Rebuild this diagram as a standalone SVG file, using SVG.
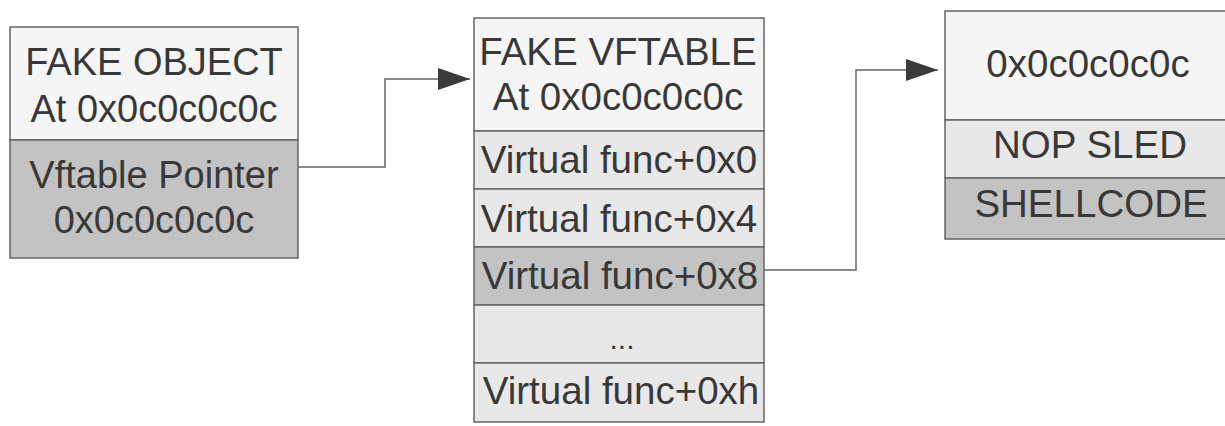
<svg xmlns="http://www.w3.org/2000/svg" width="1225" height="426" viewBox="0 0 1225 426">
<style>
.box{stroke:#666;stroke-width:1.5}
.hdr{fill:#f5f5f5}
.lt{fill:#e8e8e8}
.dk{fill:#c3c3c3}
.t{font-family:"Liberation Sans",Arial,sans-serif;font-size:38.5px;fill:#383838;text-anchor:middle}
.edge{fill:none;stroke:#666;stroke-width:1.5}
</style>
<defs>
<marker id="ah" viewBox="0 0 32 22" refX="32" refY="11" markerWidth="32" markerHeight="22" markerUnits="userSpaceOnUse" orient="auto">
<path d="M0,0 L32,11 L0,22 Z" fill="#3a3a3a"/>
</marker>
</defs>
<rect width="1225" height="426" fill="#ffffff"/>
<g id="fake-object">
<rect class="box hdr" x="10" y="27" width="288" height="113"/>
<rect class="box dk" x="10" y="140" width="288" height="118"/>
<text class="t" x="154" y="75" style="font-size:38px">FAKE OBJECT</text>
<text class="t" x="154" y="122" style="font-size:38px">At 0x0c0c0c0c</text>
<text class="t" x="154" y="188" style="font-size:38px">Vftable Pointer</text>
<text class="t" x="154" y="233" style="font-size:38px">0x0c0c0c0c</text>
</g>
<g id="fake-vftable">
<rect class="box hdr" x="474" y="18" width="290" height="113"/>
<rect class="box lt" x="474" y="131" width="290" height="58"/>
<rect class="box lt" x="474" y="189" width="290" height="58"/>
<rect class="box dk" x="474" y="247" width="290" height="58"/>
<rect class="box lt" x="474" y="305" width="290" height="58"/>
<rect class="box lt" x="474" y="363" width="290" height="59"/>
<text class="t" x="618" y="65">FAKE VFTABLE</text>
<text class="t" x="618" y="110">At 0x0c0c0c0c</text>
<text class="t" x="619" y="173">Virtual func+0x0</text>
<text class="t" x="619" y="232">Virtual func+0x4</text>
<text class="t" x="620" y="289">Virtual func+0x8</text>
<text class="t" x="622" y="349" style="font-size:30px">...</text>
<text class="t" x="621" y="404">Virtual func+0xh</text>
</g>
<g id="shellcode-region">
<rect class="box hdr" x="945" y="11" width="290" height="109"/>
<rect class="box lt" x="945" y="120" width="290" height="58"/>
<rect class="box dk" x="945" y="178" width="290" height="61"/>
<text class="t" x="1088" y="77">0x0c0c0c0c</text>
<text class="t" x="1090" y="158">NOP SLED</text>
<text class="t" x="1091" y="217">SHELLCODE</text>
</g>
<g id="connectors">
<path class="edge" d="M298,167 H385 V79 H470" marker-end="url(#ah)"/>
<path class="edge" d="M764,270 H856 V70 H938" marker-end="url(#ah)"/>
</g>
</svg>
